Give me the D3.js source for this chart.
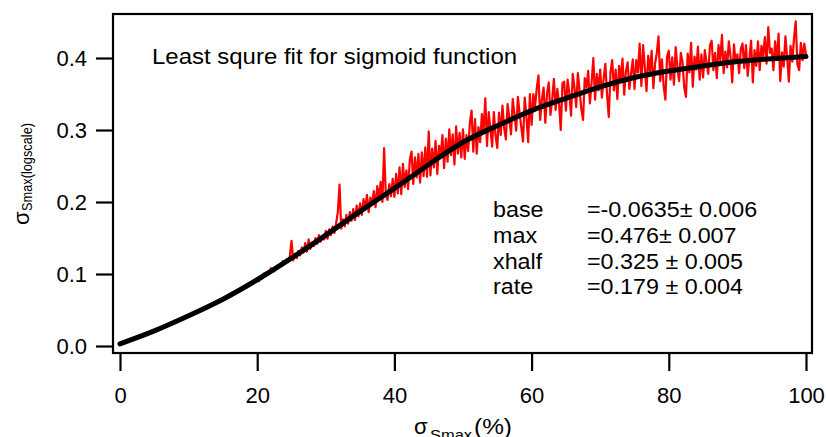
<!DOCTYPE html>
<html>
<head>
<meta charset="utf-8">
<script src="https://cdn.jsdelivr.net/npm/d3@7"></script>
<style>
  body { margin: 0; background: #fff; }
  text { font-family: "Liberation Sans", Arial, sans-serif; fill: #000; }
</style>
</head>
<body>
<div id="chart"></div>
<script>
// fitted sigmoid
const fitX = [0, 5, 10, 15, 20, 25, 30, 35, 40, 45, 50, 55, 60, 65, 70, 75, 80, 85, 90, 95, 100];
const fitY = [0.003, 0.021, 0.042, 0.065, 0.092, 0.122, 0.154, 0.187, 0.219, 0.252, 0.283,
    0.306, 0.327, 0.344, 0.360, 0.373, 0.382, 0.389, 0.395, 0.399, 0.402];

// measured trace (red), one value every 0.25 %, one row per 5 %
const dataY = [
    .004, .004, .005, .006, .008, .008, .009, .010, .011, .011, .013, .013, .015, .015, .016, .018, .018, .019, .020, .021,
    .022, .022, .024, .025, .026, .026, .028, .029, .030, .030, .033, .033, .035, .035, .037, .037, .039, .039, .041, .042,
    .043, .044, .045, .046, .047, .049, .050, .050, .052, .053, .055, .055, .057, .058, .059, .059, .061, .063, .063, .065,
    .066, .067, .068, .070, .071, .072, .074, .075, .076, .077, .079, .080, .082, .081, .085, .084, .088, .086, .090, .089,
    .093, .090, .096, .094, .101, .097, .103, .100, .108, .103, .104, .110, .108, .113, .111, .118, .114, .120, .117, .124,
    .146, .119, .128, .122, .132, .126, .137, .130, .143, .131, .148, .135, .144, .139, .150, .142, .154, .145, .152, .148,
    .160, .149, .162, .154, .166, .157, .170, .186, .224, .163, .176, .166, .182, .170, .186, .174, .190, .175, .195, .180,
    .198, .182, .204, .190, .210, .186, .206, .196, .215, .193, .222, .204, .228, .200, .275, .210, .203, .225, .208, .232,
    .207, .239, .212, .248, .211, .253, .221, .244, .218, .259, .270, .225, .262, .234, .267, .227, .269, .236, .276, .235,
    .298, .237, .274, .248, .285, .239, .278, .264, .293, .247, .288, .256, .301, .265, .294, .252, .305, .267, .296, .262,
    .301, .260, .293, .271, .310, .327, .270, .315, .267, .304, .283, .322, .297, .344, .278, .325, .300, .277, .325, .292,
    .275, .324, .293, .334, .303, .287, .336, .317, .294, .343, .322, .299, .346, .323, .304, .284, .345, .318, .283, .350,
    .307, .350, .331, .358, .376, .314, .342, .359, .310, .351, .366, .321, .342, .371, .328, .357, .337, .300, .365, .367,
    .327, .370, .351, .320, .378, .359, .332, .379, .354, .329, .314, .372, .359, .382, .337, .366, .400, .342, .378, .355,
    .384, .345, .371, .392, .349, .318, .380, .397, .355, .384, .343, .389, .370, .399, .349, .382, .394, .357, .378, .398,
    .357, .397, .380, .420, .361, .418, .388, .354, .403, .381, .410, .358, .392, .407, .430, .368, .398, .361, .342, .402,
    .410, .370, .401, .363, .415, .388, .368, .407, .394, .359, .346, .406, .380, .421, .360, .402, .384, .416, .370, .405,
    .373, .411, .394, .378, .418, .424, .383, .407, .372, .418, .397, .432, .379, .409, .387, .423, .402, .366, .419, .393,
    .405, .379, .413, .420, .386, .418, .375, .400, .424, .366, .411, .389, .423, .383, .417, .402, .429, .392, .443, .407,
    .413, .383, .423, .397, .434, .368, .408, .388, .430, .401, .367, .417, .395, .427, .451, .391, .383, .421, .397, .420,
    .405
];
const dataX = dataY.map((d, i) => i * 0.25);

const xTicks = [0, 20, 40, 60, 80, 100];
const yTicks = [0, 0.1, 0.2, 0.3, 0.4];

const title = 'Least squre fit for sigmoid function';
const paramNames = ['base', 'max', 'xhalf', 'rate'];
const paramValues = ['=-0.0635\u00b1 0.006', '=0.476\u00b1 0.007', '=0.325 \u00b1 0.005', '=0.179 \u00b1 0.004'];

const chartWidth = 826;
const chartHeight = 437;
const frame = {left: 113, right: 812, top: 14, bottom: 353};

const xScale = d3.scaleLinear()
    .domain([0, 100])
    .range([120, 806]);

const yScale = d3.scaleLinear()
    .domain([0, 0.4])
    .range([346, 58]);

const svg = d3.select('#chart')
    .append('svg')
    .attr('width', chartWidth)
    .attr('height', chartHeight);

// axes (ticks outside the frame)
const yAxis = svg.append('g')
    .attr('transform', `translate(${frame.left},0)`)
    .call(d3.axisLeft(yScale).tickValues(yTicks).tickFormat(d3.format('.1f'))
        .tickSize(17).tickPadding(9));

const xAxis = svg.append('g')
    .attr('transform', `translate(0,${frame.bottom})`)
    .call(d3.axisBottom(xScale).tickValues(xTicks).tickFormat(d3.format('d'))
        .tickSize(18).tickPadding(16));

[xAxis, yAxis].forEach(g => {
    g.select('.domain').remove();
    g.selectAll('line').attr('stroke', '#000').attr('stroke-width', 2.2);
    g.selectAll('text').attr('font-size', 22).attr('fill', '#000')
        .attr('font-family', '"Liberation Sans", Arial, sans-serif');
});

// data trace
svg.append('path')
    .datum(dataY)
    .attr('fill', 'none')
    .attr('stroke', '#ff0000')
    .attr('stroke-width', 2.2)
    .attr('stroke-linejoin', 'round')
    .attr('d', d3.line().x((d, i) => xScale(dataX[i])).y(d => yScale(d)));

// fit
svg.append('path')
    .datum(fitY)
    .attr('fill', 'none')
    .attr('stroke', '#000')
    .attr('stroke-width', 5)
    .attr('stroke-linecap', 'round')
    .attr('d', d3.line().curve(d3.curveNatural).x((d, i) => xScale(fitX[i])).y(d => yScale(d)));

svg.append('rect')
    .attr('x', frame.left)
    .attr('y', frame.top)
    .attr('width', frame.right - frame.left)
    .attr('height', frame.bottom - frame.top)
    .attr('fill', 'none')
    .attr('stroke', '#000')
    .attr('stroke-width', 2.2);

function label(x, y, str, size, sx) {
    return svg.append('text')
        .attr('transform', `translate(${x},${y}) scale(${sx},1)`)
        .attr('font-size', size)
        .text(str);
}

label(152, 63.5, title, 22, 1.09);

paramNames.forEach((name, i) => {
    label(493, 217 + i * 25.8, name, 22, 1.06);
    label(587, 217 + i * 25.8, paramValues[i], 22, 1.06);
});

// y title: sigma with subscript, rotated
const yt = svg.append('g').attr('transform', 'translate(28.5,225) rotate(-90)');
yt.append('text').attr('font-size', 22).text('\u03c3');
yt.append('text').attr('x', 14).attr('y', 3).attr('font-size', 15)
    .attr('textLength', 88).attr('lengthAdjust', 'spacingAndGlyphs')
    .text('Smax(logscale)');

// x title
svg.append('text').attr('x', 414).attr('y', 433.5).attr('font-size', 22).text('\u03c3');
svg.append('text').attr('x', 430).attr('y', 440).attr('font-size', 15)
    .attr('textLength', 42).attr('lengthAdjust', 'spacingAndGlyphs').text('Smax');
svg.append('text').attr('x', 474).attr('y', 433.5).attr('font-size', 22)
    .attr('textLength', 38).attr('lengthAdjust', 'spacingAndGlyphs').text('(%)');
</script>
</body>
</html>
